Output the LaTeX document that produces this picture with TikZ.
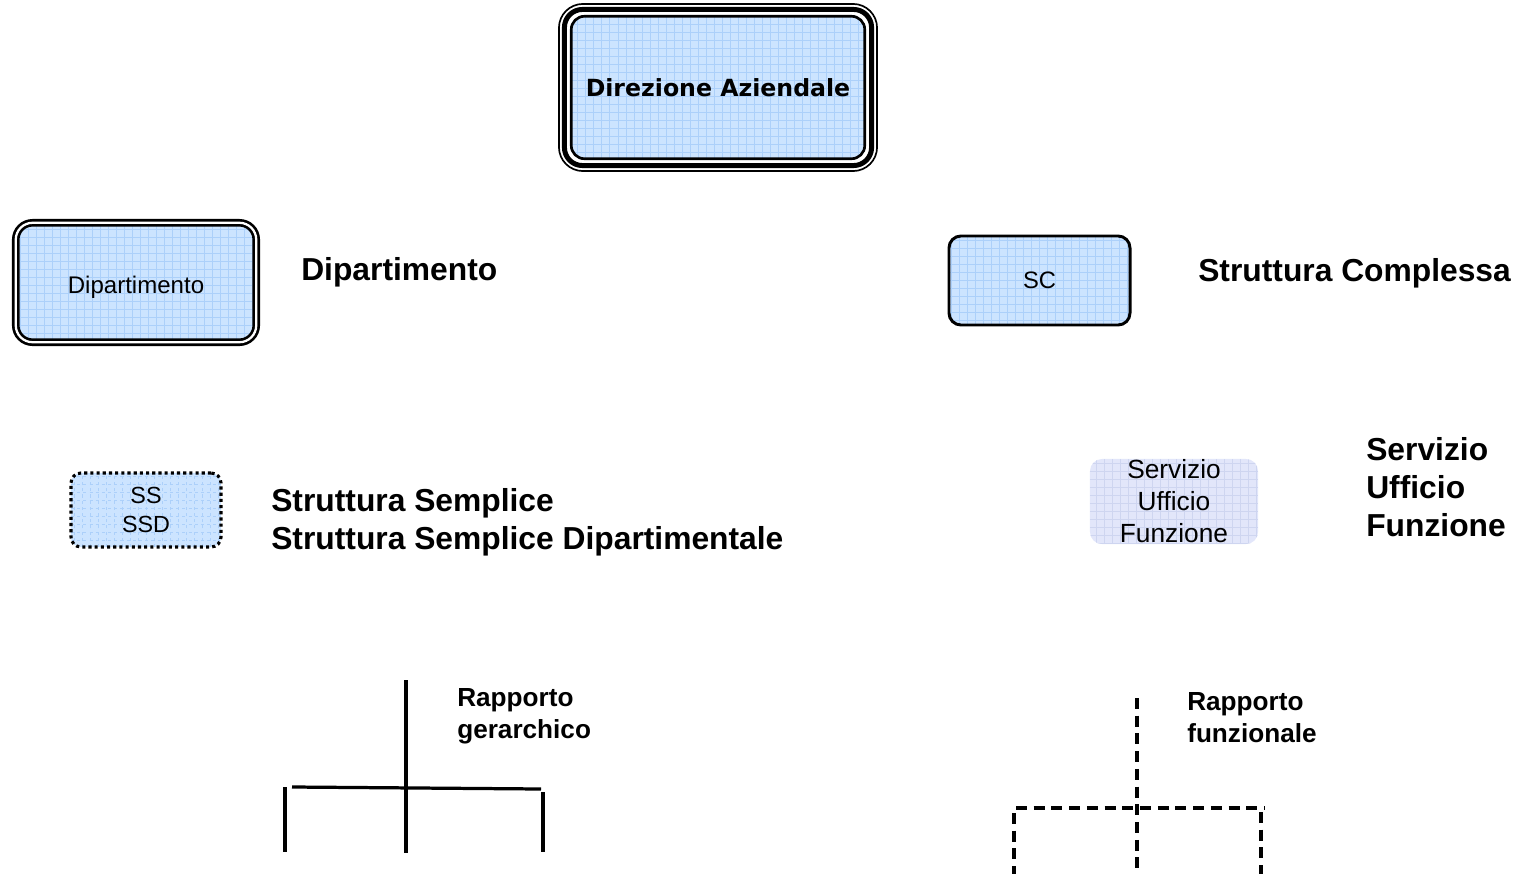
\documentclass[tikz,border=0pt]{standalone}
\usepackage{fontspec}
\setmainfont{Liberation Sans}
\newfontfamily\dirfont{DejaVu Sans}
\usepackage{tikz}
\definecolor{white}{rgb}{1.0, 1.0, 1.0}
\definecolor{black}{rgb}{0.0, 0.0, 0.0}
\definecolor{boxblue}{RGB}{204,228,255}
\definecolor{gridblue}{RGB}{172,208,250}
\definecolor{lilac}{RGB}{226,230,250}
\definecolor{gridlilac}{RGB}{206,213,240}
\pgfdeclarelayer{edgelayer}
\pgfdeclarelayer{nodelayer}
\pgfsetlayers{edgelayer,nodelayer,main}
\tikzstyle{bluegrid}=[fill=boxblue,path picture={\draw[gridblue,line width=0.4pt] (path picture bounding box.south west) grid[step=0.2cm] (path picture bounding box.north east);}]
\tikzstyle{lilacgrid}=[fill=lilac,path picture={\draw[gridlilac,line width=0.4pt] (path picture bounding box.south west) grid[step=0.2cm] (path picture bounding box.north east);}]
\tikzstyle{orgbox}=[inner sep=0pt,align=center]
\tikzstyle{head}=[anchor=west,inner sep=0pt,align=left,font=\bfseries\fontsize{22.6}{27}\selectfont]
\tikzstyle{rapporto}=[anchor=west,inner sep=0pt,align=left,font=\bfseries\fontsize{18.6}{22.8}\selectfont]
\tikzstyle{link}=[line width=2.3pt]
\tikzstyle{funlink}=[line width=2.3pt,dash pattern=on 7.8pt off 4.8pt]

\begin{document}
\begin{tikzpicture}[x=0.025cm,y=-0.025cm]
        \useasboundingbox (0,0) rectangle (1517,874);

        \begin{pgfonlayer}{nodelayer}
            \node [style = orgbox, bluegrid, draw, line width=1.9pt, rounded corners=0.33cm, minimum width=7.335cm, minimum height=3.56cm, font=\dirfont\bfseries\fontsize{16.8}{20}\selectfont] (dir) at (718, 87.5) {Direzione Aziendale};
            \node [style = orgbox, bluegrid, draw, double, line width=1.9pt, double distance=1.6pt, rounded corners=0.42cm, minimum width=6.01cm, minimum height=2.985cm, text height=17pt, text depth=1.3pt, font=\fontsize{17.1}{20}\selectfont] (dip) at (136, 282.5) {Dipartimento};
            \node [style = orgbox, bluegrid, draw, line width=2.1pt, rounded corners=0.3cm, minimum width=4.525cm, minimum height=2.225cm, font=\fontsize{16.9}{20}\selectfont] (sc) at (1039.5, 280.5) {SC};
            \node [style = orgbox, bluegrid, draw, line width=2.2pt, dash pattern=on 2.2pt off 2.2pt, rounded corners=0.25cm, minimum width=3.75cm, minimum height=1.85cm, font=\fontsize{16.6}{20.6}\selectfont] (ss) at (146, 510) {SS\\SSD};
            \node [style = orgbox, lilacgrid, rounded corners=0.3cm, minimum width=4.2cm, minimum height=2.125cm, font=\fontsize{18.7}{22.75}\selectfont] (serv) at (1174, 501.5) {Servizio\\Ufficio\\Funzione};

            \node [style = head] (hdip) at (301, 272.7) {Dipartimento};
            \node [style = head] (hsc) at (1198, 273.7) {Struttura Complessa};
            \node [style = head] (hss) at (271, 522) {Struttura Semplice\\Struttura Semplice Dipartimentale};
            \node [style = head] (hserv) at (1366, 487) {Servizio\\Ufficio\\Funzione};
            \node [style = rapporto] (hger) at (457, 716) {Rapporto\\gerarchico};
            \node [style = rapporto] (hfun) at (1187, 717.5) {Rapporto\\funzionale};
        \end{pgfonlayer}

        % frame of the top box
        \draw [line width=3.55pt, rounded corners=0.45cm] ([shift={(-5.5,5.5)}]dir.south west) rectangle ([shift={(5.5,-5.5)}]dir.north east);
        \draw [line width=1.2pt, rounded corners=0.6cm] ([shift={(-11,11)}]dir.south west) rectangle ([shift={(11,-11)}]dir.north east);

        \coordinate (gtop) at (406, 680);
        \coordinate (gbot) at (406, 853);
        \coordinate (gl) at (292, 787);
        \coordinate (gr) at (541, 789);
        \coordinate (gla) at (285, 787);
        \coordinate (glb) at (285, 852);
        \coordinate (gra) at (543, 792);
        \coordinate (grb) at (543, 852);

        \coordinate (ftop) at (1137, 698);
        \coordinate (fbot) at (1137, 874);
        \coordinate (fl) at (1016, 808);
        \coordinate (fr) at (1265, 808);
        \coordinate (fla) at (1014, 813);
        \coordinate (flb) at (1014, 874);
        \coordinate (fra) at (1261, 812);
        \coordinate (frb) at (1261, 874);

        \begin{pgfonlayer}{edgelayer}
            \draw [link] (gtop) to (gbot);
            \draw [link] (gl) to (gr);
            \draw [link] (gla) to (glb);
            \draw [link] (gra) to (grb);
            \draw [funlink] (ftop) to (fbot);
            \draw [funlink] (fl) to (fr);
            \draw [funlink] (fla) to (flb);
            \draw [funlink] (fra) to (frb);
        \end{pgfonlayer}
    \end{tikzpicture}
\end{document}
